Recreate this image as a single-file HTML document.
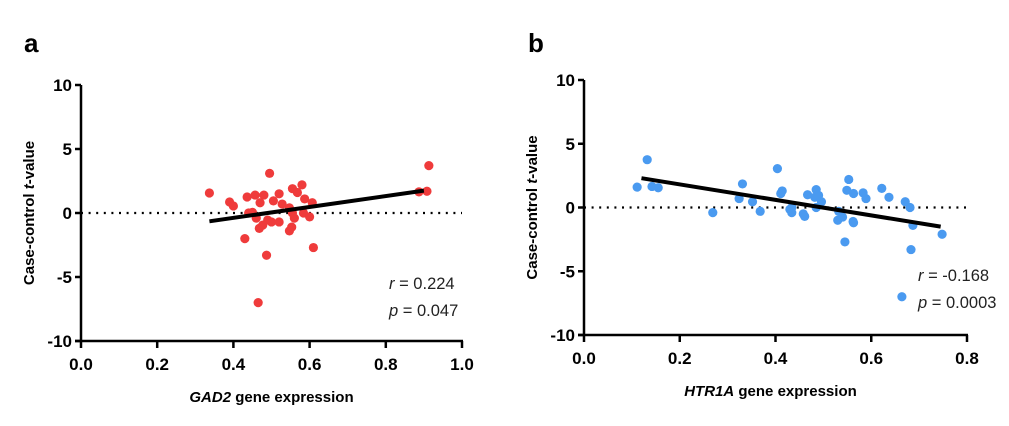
<!DOCTYPE html>
<html><head><meta charset="utf-8"><style>
html,body{margin:0;padding:0;background:#fff;width:1009px;height:426px;overflow:hidden}
svg{display:block;font-family:"Liberation Sans",Arial,sans-serif}
</style></head><body>
<svg id="svg" width="1009" height="426" xmlns="http://www.w3.org/2000/svg"></svg>
<script>
const aX=[0.337,0.495,0.39,0.40,0.436,0.457,0.48,0.52,0.58,0.555,0.568,0.47,0.505,0.528,0.587,0.607,0.44,0.45,0.46,0.547,0.555,0.56,0.584,0.60,0.49,0.50,0.52,0.468,0.477,0.547,0.553,0.43,0.61,0.487,0.465,0.913,0.887,0.908];
const aY=[1.56,3.1,0.86,0.55,1.25,1.4,1.4,1.5,2.2,1.9,1.6,0.8,0.95,0.7,1.1,0.8,0,0.05,-0.4,0.4,0,-0.4,0,-0.3,-0.55,-0.7,-0.7,-1.2,-0.95,-1.4,-1.1,-2.0,-2.7,-3.3,-7.0,3.7,1.65,1.7];
const aLine=[[0.337,-0.65],[0.9,1.75]];
const bX=[0.132,0.111,0.142,0.155,0.269,0.331,0.324,0.352,0.368,0.404,0.411,0.414,0.43,0.434,0.434,0.458,0.461,0.467,0.485,0.482,0.49,0.496,0.485,0.532,0.53,0.54,0.545,0.553,0.549,0.563,0.562,0.563,0.583,0.589,0.622,0.637,0.671,0.681,0.687,0.683,0.748,0.664];
const bY=[3.75,1.6,1.65,1.55,-0.4,1.85,0.7,0.45,-0.3,3.05,1.1,1.3,-0.15,0,-0.4,-0.5,-0.7,1.0,1.4,0.8,0.95,0.45,0,-0.3,-1.0,-0.75,-2.7,2.2,1.35,1.1,-1.1,-1.2,1.15,0.7,1.5,0.8,0.45,0,-1.4,-3.3,-2.1,-7.0];
const bLine=[[0.12,2.3],[0.745,-1.5]];
const yTicks=[10,5,0,-5,-10];
const aXTicks=["0.0","0.2","0.4","0.6","0.8","1.0"];
const bXTicks=["0.0","0.2","0.4","0.6","0.8"];
const NS="http://www.w3.org/2000/svg",svg=document.getElementById('svg');
function el(t,a,txt){const e=document.createElementNS(NS,t);for(const k in a)e.setAttribute(k,a[k]);if(txt!==undefined)e.textContent=txt;svg.appendChild(e);return e;}
function panel(p){
 const sx=v=>p.x0+(v/p.xmax)*(p.x1-p.x0), sy=v=>p.yb-(v+10)/20*(p.yb-p.yt);
 let e=el('text',{x:p.lx,y:52,'font-size':26,'font-weight':'bold'},p.letter);
 
 e=el('line',{x1:p.x0,y1:p.yt,x2:p.x0,y2:p.yb,stroke:'#000','stroke-width':2.5});
 
 e=el('line',{x1:p.x0-6,y1:p.yb,x2:p.x1+1,y2:p.yb,stroke:'#000','stroke-width':2.5});
 
 yTicks.forEach(t=>{el('line',{x1:p.x0-6,y1:sy(t),x2:p.x0,y2:sy(t),stroke:'#000','stroke-width':2.5});
  e=el('text',{x:p.x0-9,y:sy(t)+6,'font-size':17,'font-weight':'bold','text-anchor':'end'},t);
  });
 p.xt.forEach(t=>{const x=sx(+t);el('line',{x1:x,y1:p.yb,x2:x,y2:p.yb+7,stroke:'#000','stroke-width':2.5});
  e=el('text',{x:x,y:p.yb+29,'font-size':17,'font-weight':'bold','text-anchor':'middle'},t);
  });
 e=el('line',{x1:p.x0,y1:sy(0),x2:p.x1,y2:sy(0),stroke:'#000','stroke-width':2.2,'stroke-dasharray':'2 5.6'});
 
 p.X.forEach((v,i)=>{e=el('circle',{cx:sx(v),cy:sy(p.Y[i]),r:4.6,fill:p.col});
  });
 e=el('line',{x1:sx(p.L[0][0]),y1:sy(p.L[0][1]),x2:sx(p.L[1][0]),y2:sy(p.L[1][1]),stroke:'#000','stroke-width':4});
 
 const t=el('text',{x:0,y:0,'font-size':15,'font-weight':'bold',transform:`translate(${p.x0-47},${(p.yt+p.yb)/2}) rotate(-90)`,'text-anchor':'middle'});
 t.innerHTML='Case-control <tspan font-style="italic">t</tspan>-value';
 
 const xt=el('text',{x:(p.x0+p.x1)/2+p.xto,y:p.yb+61,'font-size':15,'font-weight':'bold','text-anchor':'middle'});
 xt.innerHTML=`<tspan font-style="italic">${p.gene}</tspan> gene expression`;
 
 e=el('text',{x:p.sx,y:p.yb-p.ro,'font-size':16.5,'fill':'#222'});e.innerHTML='<tspan font-style="italic">r</tspan> = '+p.r;
 
 e=el('text',{x:p.sx,y:p.yb-p.ro+27,'font-size':16.5,'fill':'#222'});e.innerHTML='<tspan font-style="italic">p</tspan> = '+p.p;
 
}
panel({letter:'a',lx:24,x0:81,x1:462,xmax:1.0,yt:85,yb:341,xt:aXTicks,X:aX,Y:aY,L:aLine,col:'#ef3b3b',gene:'GAD2',r:'0.224',p:'0.047',sx:389,xto:0,ro:52});
panel({letter:'b',lx:528,x0:584,x1:967,xmax:0.8,yt:80,yb:335,xt:bXTicks,X:bX,Y:bY,L:bLine,col:'#4a9af0',gene:'HTR1A',r:'-0.168',p:'0.0003',sx:918,xto:-5,ro:54});
</script>
</body></html>
